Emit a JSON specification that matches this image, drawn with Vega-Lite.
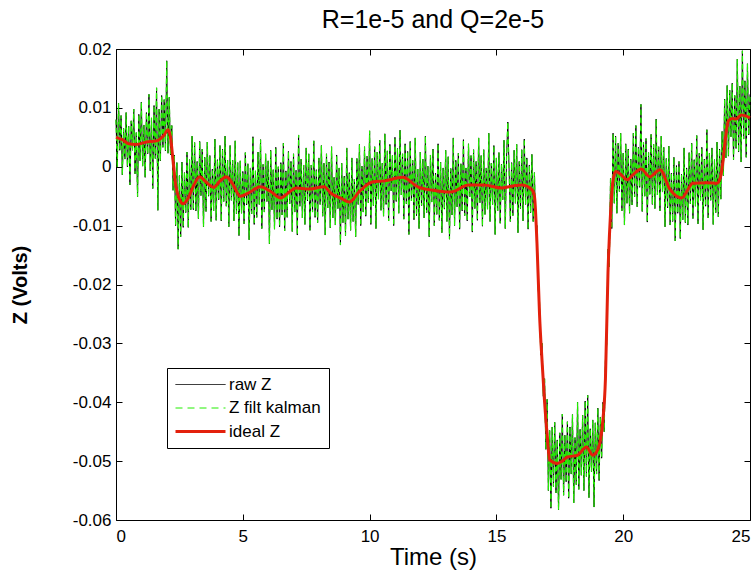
{
"$schema":"https://vega.github.io/schema/vega-lite/v6.json",
"width":634,"height":471,
"autosize":{"type":"none"},
"padding":{"left":116,"top":49,"right":6,"bottom":54},
"background":"white",
"title":{"text":"R=1e-5 and Q=2e-5","fontSize":25,"fontWeight":"normal","font":"Liberation Sans","color":"black","anchor":"middle","offset":7},
"config":{"view":{"stroke":"black","strokeWidth":1},"font":"Liberation Sans",
"axis":{"grid":false,"domain":false,"tickColor":"black","tickSize":-6,"labelColor":"black","labelFontSize":17,"labelFont":"Liberation Sans","titleColor":"black","titleFont":"Liberation Sans"}},
"datasets":{
"noisy":[
{"t":0,"z":0.008},{"t":0.05,"z":-0.0001},{"t":0.1,"z":0.0108},{"t":0.15,"z":0.0028},{"t":0.2,"z":0.0087},{"t":0.25,"z":-0.0014},{"t":0.3,"z":0.0065},{"t":0.35,"z":0.0013},{"t":0.4,"z":0.0092},{"t":0.45,"z":0},
{"t":0.5,"z":0.0069},{"t":0.55,"z":-0.0031},{"t":0.6,"z":0.0078},{"t":0.65,"z":0.0028},{"t":0.7,"z":0.0098},{"t":0.75,"z":-0.0012},{"t":0.8,"z":0.0058},{"t":0.85,"z":-0.0051},{"t":0.9,"z":0.0089},{"t":0.95,"z":0.001},
{"t":1,"z":0.011},{"t":1.05,"z":0.0001},{"t":1.1,"z":0.0071},{"t":1.15,"z":-0.0018},{"t":1.2,"z":0.0092},{"t":1.25,"z":0.0022},{"t":1.3,"z":0.0123},{"t":1.35,"z":-0.0007},{"t":1.4,"z":0.0083},{"t":1.45,"z":-0.0037},
{"t":1.5,"z":0.0104},{"t":1.55,"z":0.0014},{"t":1.6,"z":0.0134},{"t":1.65,"z":-0.0074},{"t":1.7,"z":0.0098},{"t":1.75,"z":0.001},{"t":1.8,"z":0.0121},{"t":1.85,"z":0.0033},{"t":1.9,"z":0.0114},{"t":1.95,"z":0.0027},
{"t":2,"z":0.018},{"t":2.05,"z":0.0023},{"t":2.1,"z":0.0118},{"t":2.15,"z":0.002},{"t":2.2,"z":0.007},{"t":2.25,"z":-0.004},{"t":2.3,"z":0.002},{"t":2.35,"z":-0.01},{"t":2.4,"z":0.0007},{"t":2.45,"z":-0.014},
{"t":2.5,"z":-0.0015},{"t":2.55,"z":-0.0119},{"t":2.6,"z":0.0008},{"t":2.65,"z":-0.0103},{"t":2.7,"z":-0.001},{"t":2.75,"z":-0.0078},{"t":2.8,"z":0.0025},{"t":2.85,"z":-0.0103},{"t":2.9,"z":0.0012},{"t":2.95,"z":-0.0073},
{"t":3,"z":0.0052},{"t":3.05,"z":-0.0073},{"t":3.1,"z":0.0041},{"t":3.15,"z":-0.0075},{"t":3.2,"z":0.0009},{"t":3.25,"z":-0.0088},{"t":3.3,"z":0.0043},{"t":3.35,"z":-0.0049},{"t":3.4,"z":0.003},{"t":3.45,"z":-0.0102},
{"t":3.5,"z":0.0016},{"t":3.55,"z":-0.0076},{"t":3.6,"z":0.0042},{"t":3.65,"z":-0.005},{"t":3.7,"z":0.0019},{"t":3.75,"z":-0.0093},{"t":3.8,"z":-0.0004},{"t":3.85,"z":-0.0075},{"t":3.9,"z":0.0047},{"t":3.95,"z":-0.0091},
{"t":4,"z":0.0012},{"t":4.05,"z":-0.0056},{"t":4.1,"z":0.0036},{"t":4.15,"z":-0.0092},{"t":4.2,"z":0.003},{"t":4.25,"z":-0.0059},{"t":4.3,"z":0.0052},{"t":4.35,"z":-0.0067},{"t":4.4,"z":0.0011},{"t":4.45,"z":-0.0102},
{"t":4.5,"z":0.0036},{"t":4.55,"z":-0.0057},{"t":4.6,"z":0.0011},{"t":4.65,"z":-0.0092},{"t":4.7,"z":0.0044},{"t":4.75,"z":-0.008},{"t":4.8,"z":0.0007},{"t":4.85,"z":-0.0117},{"t":4.9,"z":0.001},{"t":4.95,"z":-0.0079},
{"t":5,"z":-0.0008},{"t":5.05,"z":-0.0097},{"t":5.1,"z":0.0024},{"t":5.15,"z":-0.0065},{"t":5.2,"z":0.0005},{"t":5.25,"z":-0.0124},{"t":5.3,"z":-0.0002},{"t":5.35,"z":-0.008},{"t":5.4,"z":0.0051},{"t":5.45,"z":-0.0098},
{"t":5.5,"z":-0.0007},{"t":5.55,"z":-0.0086},{"t":5.6,"z":0.0025},{"t":5.65,"z":-0.0064},{"t":5.7,"z":0.0046},{"t":5.75,"z":-0.0105},{"t":5.8,"z":0.0004},{"t":5.85,"z":-0.0077},{"t":5.9,"z":0.0022},{"t":5.95,"z":-0.0059},
{"t":6,"z":0.001},{"t":6.05,"z":-0.0131},{"t":6.1,"z":0.0028},{"t":6.15,"z":-0.0073},{"t":6.2,"z":-0.0005},{"t":6.25,"z":-0.0106},{"t":6.3,"z":0.0033},{"t":6.35,"z":-0.0089},{"t":6.4,"z":0},{"t":6.45,"z":-0.0102},
{"t":6.5,"z":0.0007},{"t":6.55,"z":-0.0082},{"t":6.6,"z":0.004},{"t":6.65,"z":-0.0109},{"t":6.7,"z":-0.0007},{"t":6.75,"z":-0.0086},{"t":6.8,"z":0.0026},{"t":6.85,"z":-0.0063},{"t":6.9,"z":0.0009},{"t":6.95,"z":-0.011},
{"t":7,"z":0.0022},{"t":7.05,"z":-0.0077},{"t":7.1,"z":-0.0006},{"t":7.15,"z":-0.0116},{"t":7.2,"z":0.0054},{"t":7.25,"z":-0.0067},{"t":7.3,"z":0.0013},{"t":7.35,"z":-0.0087},{"t":7.4,"z":0.0003},{"t":7.45,"z":-0.0098},
{"t":7.5,"z":0.0032},{"t":7.55,"z":-0.0058},{"t":7.6,"z":0.0022},{"t":7.65,"z":-0.0108},{"t":7.7,"z":0.0003},{"t":7.75,"z":-0.0077},{"t":7.8,"z":0.0044},{"t":7.85,"z":-0.0086},{"t":7.9,"z":-0.0005},{"t":7.95,"z":-0.0095},
{"t":8,"z":0.0015},{"t":8.05,"z":-0.0064},{"t":8.1,"z":0.0036},{"t":8.15,"z":-0.0084},{"t":8.2,"z":0.0006},{"t":8.25,"z":-0.0116},{"t":8.3,"z":0.0022},{"t":8.35,"z":-0.007},{"t":8.4,"z":0.0008},{"t":8.45,"z":-0.0104},
{"t":8.5,"z":0.0034},{"t":8.55,"z":-0.0087},{"t":8.6,"z":-0.0018},{"t":8.65,"z":-0.0099},{"t":8.7,"z":0.002},{"t":8.75,"z":-0.0071},{"t":8.8,"z":-0.0002},{"t":8.85,"z":-0.0133},{"t":8.9,"z":0.0006},{"t":8.95,"z":-0.0095},
{"t":9,"z":-0.0016},{"t":9.05,"z":-0.0117},{"t":9.1,"z":0.0032},{"t":9.15,"z":-0.0089},{"t":9.2,"z":-0.001},{"t":9.25,"z":-0.0108},{"t":9.3,"z":0.0015},{"t":9.35,"z":-0.0093},{"t":9.4,"z":-0.0021},{"t":9.45,"z":-0.0119},
{"t":9.5,"z":0.0014},{"t":9.55,"z":-0.0064},{"t":9.6,"z":0.0038},{"t":9.65,"z":-0.01},{"t":9.7,"z":0.0001},{"t":9.75,"z":-0.0077},{"t":9.8,"z":0.0034},{"t":9.85,"z":-0.0084},{"t":9.9,"z":0.0018},{"t":9.95,"z":-0.0061},
{"t":10,"z":0.0061},{"t":10.05,"z":-0.0098},{"t":10.1,"z":0.0014},{"t":10.15,"z":-0.0066},{"t":10.2,"z":0.0034},{"t":10.25,"z":-0.0105},{"t":10.3,"z":0.0025},{"t":10.35,"z":-0.0055},{"t":10.4,"z":0.0045},{"t":10.45,"z":-0.0074},
{"t":10.5,"z":0.0006},{"t":10.55,"z":-0.0084},{"t":10.6,"z":0.0056},{"t":10.65,"z":-0.0064},{"t":10.7,"z":0.0027},{"t":10.75,"z":-0.0092},{"t":10.8,"z":0.0038},{"t":10.85,"z":-0.0041},{"t":10.9,"z":0.0019},{"t":10.95,"z":-0.01},
{"t":11,"z":0.005},{"t":11.05,"z":-0.0059},{"t":11.1,"z":0.0031},{"t":11.15,"z":-0.0079},{"t":11.2,"z":0.0062},{"t":11.25,"z":-0.0048},{"t":11.3,"z":0.0022},{"t":11.35,"z":-0.0089},{"t":11.4,"z":0.0039},{"t":11.45,"z":-0.0063},
{"t":11.5,"z":0.0026},{"t":11.55,"z":-0.0115},{"t":11.6,"z":0.0043},{"t":11.65,"z":-0.0058},{"t":11.7,"z":0.0011},{"t":11.75,"z":-0.009},{"t":11.8,"z":0.0049},{"t":11.85,"z":-0.0083},{"t":11.9,"z":-0.0004},{"t":11.95,"z":-0.0105},
{"t":12,"z":0.0025},{"t":12.05,"z":-0.0066},{"t":12.1,"z":0.0013},{"t":12.15,"z":-0.0087},{"t":12.2,"z":0.0052},{"t":12.25,"z":-0.0078},{"t":12.3,"z":0.0001},{"t":12.35,"z":-0.0119},{"t":12.4,"z":0.002},{"t":12.45,"z":-0.006},
{"t":12.5,"z":0.003},{"t":12.55,"z":-0.01},{"t":12.6,"z":-0.0011},{"t":12.65,"z":-0.0081},{"t":12.7,"z":0.0039},{"t":12.75,"z":-0.0091},{"t":12.8,"z":0.0008},{"t":12.85,"z":-0.0112},{"t":12.9,"z":-0.0002},{"t":12.95,"z":-0.0072},
{"t":13,"z":0.0028},{"t":13.05,"z":-0.0093},{"t":13.1,"z":0.0017},{"t":13.15,"z":-0.0123},{"t":13.2,"z":-0.0003},{"t":13.25,"z":-0.0082},{"t":13.3,"z":0.0049},{"t":13.35,"z":-0.01},{"t":13.4,"z":0.0011},{"t":13.45,"z":-0.0068},
{"t":13.5,"z":0.0023},{"t":13.55,"z":-0.0106},{"t":13.6,"z":0.0005},{"t":13.65,"z":-0.0075},{"t":13.7,"z":0.0046},{"t":13.75,"z":-0.0083},{"t":13.8,"z":-0.0002},{"t":13.85,"z":-0.0092},{"t":13.9,"z":0.0039},{"t":13.95,"z":-0.0051},
{"t":14,"z":0.0019},{"t":14.05,"z":-0.0111},{"t":14.1,"z":0.0029},{"t":14.15,"z":-0.0071},{"t":14.2,"z":0.0009},{"t":14.25,"z":-0.0091},{"t":14.3,"z":0.0049},{"t":14.35,"z":-0.0061},{"t":14.4,"z":0.0019},{"t":14.45,"z":-0.0101},
{"t":14.5,"z":0.0029},{"t":14.55,"z":-0.0081},{"t":14.6,"z":-0.0002},{"t":14.65,"z":-0.0072},{"t":14.7,"z":0.0057},{"t":14.75,"z":-0.0093},{"t":14.8,"z":0.0006},{"t":14.85,"z":-0.0064},{"t":14.9,"z":0.0036},{"t":14.95,"z":-0.0115},
{"t":15,"z":0.0015},{"t":15.05,"z":-0.0075},{"t":15.1,"z":0.0024},{"t":15.15,"z":-0.0096},{"t":15.2,"z":0.0004},{"t":15.25,"z":-0.0056},{"t":15.3,"z":0.0045},{"t":15.35,"z":-0.0105},{"t":15.4,"z":0.0015},{"t":15.45,"z":0.0076},
{"t":15.5,"z":-0.0004},{"t":15.55,"z":-0.0093},{"t":15.6,"z":0.0007},{"t":15.65,"z":-0.0083},{"t":15.7,"z":0.0028},{"t":15.75,"z":-0.0062},{"t":15.8,"z":0.0038},{"t":15.85,"z":-0.0112},{"t":15.9,"z":0.0009},{"t":15.95,"z":-0.0071},
{"t":16,"z":0.0029},{"t":16.05,"z":-0.0092},{"t":16.1,"z":0.0047},{"t":16.15,"z":-0.0064},{"t":16.2,"z":0.0015},{"t":16.25,"z":-0.0106},{"t":16.3,"z":0.0003},{"t":16.35,"z":-0.0078},{"t":16.4,"z":0.0021},{"t":16.45,"z":-0.0093},
{"t":16.5,"z":-0.001},{"t":16.55,"z":-0.011},{"t":16.6,"z":-0.01},{"t":16.65,"z":-0.021},{"t":16.7,"z":-0.023},{"t":16.75,"z":-0.032},{"t":16.8,"z":-0.03},{"t":16.85,"z":-0.039},{"t":16.9,"z":-0.036},{"t":16.95,"z":-0.048},
{"t":17,"z":-0.0395},{"t":17.05,"z":-0.055},{"t":17.1,"z":-0.0448},{"t":17.15,"z":-0.058},{"t":17.2,"z":-0.0442},{"t":17.25,"z":-0.0543},{"t":17.3,"z":-0.0434},{"t":17.35,"z":-0.0554},{"t":17.4,"z":-0.0464},{"t":17.45,"z":-0.0583},
{"t":17.5,"z":-0.0452},{"t":17.55,"z":-0.0531},{"t":17.6,"z":-0.042},{"t":17.65,"z":-0.0558},{"t":17.7,"z":-0.0456},{"t":17.75,"z":-0.0535},{"t":17.8,"z":-0.0433},{"t":17.85,"z":-0.0563},{"t":17.9,"z":-0.0442},{"t":17.95,"z":-0.0522},
{"t":18,"z":-0.0421},{"t":18.05,"z":-0.0571},{"t":18.1,"z":-0.046},{"t":18.15,"z":-0.054},{"t":18.2,"z":-0.04},{"t":18.25,"z":-0.0548},{"t":18.3,"z":-0.0446},{"t":18.35,"z":-0.0524},{"t":18.4,"z":-0.0422},{"t":18.45,"z":-0.055},
{"t":18.5,"z":-0.0398},{"t":18.55,"z":-0.0526},{"t":18.6,"z":-0.0388},{"t":18.65,"z":-0.0562},{"t":18.7,"z":-0.0445},{"t":18.75,"z":-0.0518},{"t":18.8,"z":-0.043},{"t":18.85,"z":-0.0578},{"t":18.9,"z":-0.0435},{"t":18.95,"z":-0.0522},
{"t":19,"z":-0.041},{"t":19.05,"z":-0.0533},{"t":19.1,"z":-0.0425},{"t":19.15,"z":-0.0495},{"t":19.2,"z":-0.04},{"t":19.25,"z":-0.045},{"t":19.3,"z":-0.033},{"t":19.35,"z":-0.03},{"t":19.4,"z":-0.014},{"t":19.45,"z":-0.017},
{"t":19.5,"z":-0.002},{"t":19.55,"z":-0.0105},{"t":19.6,"z":0.0057},{"t":19.65,"z":-0.0062},{"t":19.7,"z":0.0052},{"t":19.75,"z":-0.0079},{"t":19.8,"z":0.004},{"t":19.85,"z":-0.0042},{"t":19.9,"z":0.0057},{"t":19.95,"z":-0.0075},
{"t":20,"z":0.0023},{"t":20.05,"z":-0.0099},{"t":20.1,"z":0.0039},{"t":20.15,"z":-0.0062},{"t":20.2,"z":0.003},{"t":20.25,"z":-0.0079},{"t":20.3,"z":0.0013},{"t":20.35,"z":-0.0065},{"t":20.4,"z":0.0057},{"t":20.45,"z":-0.0051},
{"t":20.5,"z":0.007},{"t":20.55,"z":-0.0068},{"t":20.6,"z":0.0033},{"t":20.65,"z":-0.0035},{"t":20.7,"z":0.0106},{"t":20.75,"z":-0.0076},{"t":20.8,"z":0.0042},{"t":20.85,"z":-0.005},{"t":20.9,"z":0.0048},{"t":20.95,"z":-0.0094},
{"t":21,"z":0.0024},{"t":21.05,"z":-0.0047},{"t":21.1,"z":0.0055},{"t":21.15,"z":-0.0064},{"t":21.2,"z":0.0038},{"t":21.25,"z":-0.0071},{"t":21.3,"z":0.0081},{"t":21.35,"z":-0.0048},{"t":21.4,"z":0.0034},{"t":21.45,"z":-0.0075},
{"t":21.5,"z":0.0052},{"t":21.55,"z":-0.0043},{"t":21.6,"z":0.0033},{"t":21.65,"z":-0.0102},{"t":21.7,"z":0.0014},{"t":21.75,"z":-0.007},{"t":21.8,"z":0.0035},{"t":21.85,"z":-0.0099},{"t":21.9,"z":-0.0011},{"t":21.95,"z":-0.0093},
{"t":22,"z":0.0016},{"t":22.05,"z":-0.0126},{"t":22.1,"z":0.0002},{"t":22.15,"z":-0.0079},{"t":22.2,"z":0.0009},{"t":22.25,"z":-0.0122},{"t":22.3,"z":-0.0013},{"t":22.35,"z":-0.009},{"t":22.4,"z":0.0032},{"t":22.45,"z":-0.0095},
{"t":22.5,"z":-0.0002},{"t":22.55,"z":-0.0099},{"t":22.6,"z":0.0024},{"t":22.65,"z":-0.0063},{"t":22.7,"z":0.004},{"t":22.75,"z":-0.0088},{"t":22.8,"z":0.0012},{"t":22.85,"z":-0.0067},{"t":22.9,"z":0.0053},{"t":22.95,"z":-0.0097},
{"t":23,"z":0.0023},{"t":23.05,"z":-0.0057},{"t":23.1,"z":0.0033},{"t":23.15,"z":-0.0107},{"t":23.2,"z":0.0013},{"t":23.25,"z":-0.0067},{"t":23.3,"z":0.0063},{"t":23.35,"z":-0.0087},{"t":23.4,"z":0.0023},{"t":23.45,"z":-0.0057},
{"t":23.5,"z":0.0032},{"t":23.55,"z":-0.0098},{"t":23.6,"z":0.0012},{"t":23.65,"z":-0.0078},{"t":23.7,"z":0.0042},{"t":23.75,"z":-0.0085},{"t":23.8,"z":0.003},{"t":23.85,"z":-0.0055},{"t":23.9,"z":0.006},{"t":23.95,"z":-0.0015},
{"t":24,"z":0.0115},{"t":24.05,"z":0.0015},{"t":24.1,"z":0.0138},{"t":24.15,"z":0.0018},{"t":24.2,"z":0.013},{"t":24.25,"z":0.0051},{"t":24.3,"z":0.0142},{"t":24.35,"z":0.0012},{"t":24.4,"z":0.0121},{"t":24.45,"z":0.0031},
{"t":24.5,"z":0.0183},{"t":24.55,"z":0.0025},{"t":24.6,"z":0.0137},{"t":24.65,"z":0.0008},{"t":24.7,"z":0.0197},{"t":24.75,"z":0.0047},{"t":24.8,"z":0.0146},{"t":24.85,"z":0.0016},{"t":24.9,"z":0.0175},{"t":24.95,"z":0.0054},
{"t":25,"z":0.0123}
],
"ideal":[
{"t":0,"z":0.005},{"t":0.25,"z":0.0046},{"t":0.5,"z":0.0039},{"t":0.8,"z":0.0038},{"t":1.2,"z":0.0042},{"t":1.6,"z":0.0044},{"t":1.9,"z":0.0054},{"t":2.05,"z":0.0063},{"t":2.15,"z":0.005},{"t":2.25,"z":0.001},
{"t":2.35,"z":-0.003},{"t":2.5,"z":-0.0055},{"t":2.65,"z":-0.0063},{"t":2.85,"z":-0.0053},{"t":3.05,"z":-0.0033},{"t":3.3,"z":-0.0017},{"t":3.55,"z":-0.0026},{"t":3.85,"z":-0.0035},{"t":4.1,"z":-0.0024},{"t":4.35,"z":-0.0017},
{"t":4.6,"z":-0.0029},{"t":4.9,"z":-0.005},{"t":5.2,"z":-0.0045},{"t":5.7,"z":-0.0034},{"t":6.1,"z":-0.0042},{"t":6.5,"z":-0.0053},{"t":6.8,"z":-0.0044},{"t":7.1,"z":-0.0036},{"t":7.6,"z":-0.0038},{"t":8.2,"z":-0.0034},
{"t":8.5,"z":-0.0046},{"t":8.9,"z":-0.0054},{"t":9.2,"z":-0.006},{"t":9.6,"z":-0.0042},{"t":10.1,"z":-0.0026},{"t":10.6,"z":-0.0024},{"t":11.3,"z":-0.0018},{"t":11.9,"z":-0.0034},{"t":12.5,"z":-0.004},{"t":13.2,"z":-0.0043},
{"t":13.9,"z":-0.0031},{"t":14.5,"z":-0.0031},{"t":15.2,"z":-0.0036},{"t":15.6,"z":-0.0033},{"t":16,"z":-0.0031},{"t":16.4,"z":-0.0039},{"t":16.5,"z":-0.005},{"t":16.6,"z":-0.013},{"t":16.7,"z":-0.025},{"t":16.8,"z":-0.033},
{"t":16.9,"z":-0.04},{"t":17,"z":-0.0455},{"t":17.1,"z":-0.0498},{"t":17.4,"z":-0.0504},{"t":17.6,"z":-0.05},{"t":17.8,"z":-0.0493},{"t":18.2,"z":-0.049},{"t":18.55,"z":-0.0476},{"t":18.8,"z":-0.049},{"t":19,"z":-0.048},
{"t":19.1,"z":-0.0465},{"t":19.2,"z":-0.043},{"t":19.3,"z":-0.036},{"t":19.4,"z":-0.018},{"t":19.5,"z":-0.008},{"t":19.6,"z":-0.0023},{"t":19.7,"z":-0.0008},{"t":19.9,"z":-0.0013},{"t":20.15,"z":-0.0022},{"t":20.4,"z":-0.0013},
{"t":20.7,"z":-0.0004},{"t":21.05,"z":-0.0017},{"t":21.45,"z":-0.0005},{"t":21.85,"z":-0.0039},{"t":22.3,"z":-0.0053},{"t":22.75,"z":-0.0028},{"t":23.3,"z":-0.0027},{"t":23.7,"z":-0.0028},{"t":23.85,"z":-0.0015},{"t":23.95,"z":0.0015},
{"t":24.05,"z":0.0055},{"t":24.15,"z":0.0078},{"t":24.3,"z":0.0082},{"t":24.45,"z":0.0081},{"t":24.65,"z":0.0088},{"t":24.85,"z":0.0086},{"t":25,"z":0.0083}
]
},
"layer":[
{"data":{"name":"noisy"},
 "mark":{"type":"line","strokeWidth":1},
 "encoding":{
  "x":{"field":"t","type":"quantitative","scale":{"domain":[0,25],"nice":false,"zero":false},"axis":{"orient":"top","labels":false,"title":null,"values":[0,5,10,15,20,25]}},
  "y":{"field":"z","type":"quantitative","scale":{"domain":[-0.06,0.02],"nice":false,"zero":false},"axis":{"orient":"right","labels":false,"title":null,"values":[-0.06,-0.05,-0.04,-0.03,-0.02,-0.01,0,0.01,0.02]}},
  "color":{"datum":"raw Z","type":"nominal","scale":{"domain":["raw Z","Z filt kalman","ideal Z"],"range":["black","#22ee00","#e3200c"]},
   "legend":{"orient":"none","legendX":51,"legendY":319,"title":null,"strokeColor":"black","fillColor":"white","padding":8,"symbolType":"stroke","symbolSize":2500,"symbolStrokeWidth":1,"symbolOffset":17,"labelFontSize":17,"labelColor":"black","labelFont":"Liberation Sans","rowPadding":5.5,"labelOffset":20,"cornerRadius":0,
    "encode":{"symbols":{"update":{"strokeDash":{"signal":"datum.value === 'Z filt kalman' ? [7,5] : [1,0]"},"strokeWidth":{"signal":"datum.value === 'ideal Z' ? 3 : 1"}}}}}}
 }},
{"data":{"name":"noisy"},
 "mark":{"type":"line","strokeWidth":1.2,"strokeDash":[5,3]},
 "encoding":{
  "x":{"field":"t","type":"quantitative","axis":{"orient":"bottom","title":"Time (s)","titleFontSize":24,"titleFontWeight":"normal","titlePadding":1,"labelPadding":14,"values":[0,5,10,15,20,25]}},
  "y":{"field":"z","type":"quantitative","axis":{"orient":"left","title":"Z (Volts)","titleFontSize":20,"titleFontWeight":"bold","titlePadding":42,"labelPadding":11,"values":[-0.06,-0.05,-0.04,-0.03,-0.02,-0.01,0,0.01,0.02],"labelExpr":"'' + datum.value"}},
  "color":{"datum":"Z filt kalman","type":"nominal"}
 }},
{"data":{"name":"ideal"},
 "mark":{"type":"line","strokeWidth":3,"interpolate":"monotone"},
 "encoding":{
  "x":{"field":"t","type":"quantitative","axis":null},
  "y":{"field":"z","type":"quantitative","axis":null},
  "color":{"datum":"ideal Z","type":"nominal"}
 }}
],
"resolve":{"axis":{"x":"independent","y":"independent"}}
}
